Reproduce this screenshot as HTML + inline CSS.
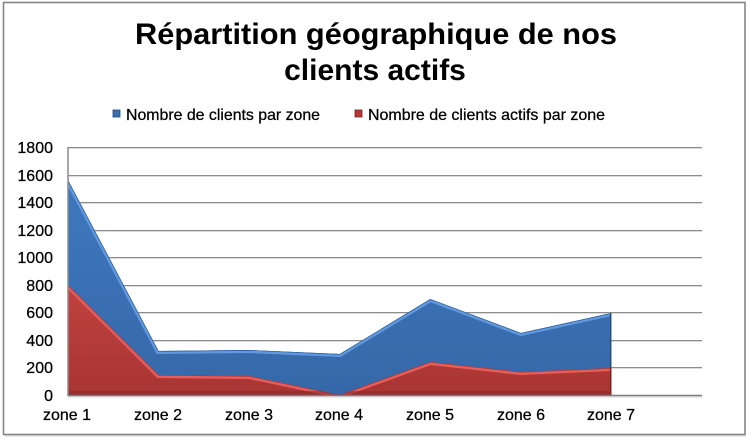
<!DOCTYPE html>
<html>
<head>
<meta charset="utf-8">
<style>
html,body{margin:0;padding:0;background:#fff;}
svg{display:block;}
text{font-family:"Liberation Sans",Arial,sans-serif;fill:#000;}
.lbl{stroke:#000;stroke-width:0.25;}
</style>
</head>
<body>
<svg width="750" height="438" viewBox="0 0 750 438" xmlns="http://www.w3.org/2000/svg">
  <defs>
    <linearGradient id="blueG" x1="0" y1="0" x2="0" y2="1">
      <stop offset="0" stop-color="#3f78bf"/>
      <stop offset="1" stop-color="#3568a8"/>
    </linearGradient>
    <linearGradient id="redG" x1="0" y1="0" x2="0" y2="1">
      <stop offset="0" stop-color="#c04240"/>
      <stop offset="1" stop-color="#a83533"/>
    </linearGradient>
    <clipPath id="clipBlue">
      <polygon points="68,180 158.6,351 249.1,350 339.7,354 430.3,299 520.9,333 611.4,313 611.4,395 68,395"/>
    </clipPath>
    <clipPath id="clipRed">
      <polygon points="68,285 158.6,375 249.1,376 339.7,395 430.3,362 520.9,372 611.4,368 611.4,395 68,395"/>
    </clipPath>
  </defs>

  <rect x="0" y="0" width="750" height="438" fill="#fff"/>
  <rect x="3.5" y="2.5" width="741.5" height="432" fill="#fff" stroke="#858585" stroke-width="1.6"/>
  <line x1="5" y1="436" x2="746" y2="436" stroke="#d8d8d8" stroke-width="1"/>

  <text x="376" y="44" font-size="30" font-weight="bold" text-anchor="middle" textLength="482" lengthAdjust="spacingAndGlyphs">Répartition géographique de nos</text>
  <text x="375" y="80" font-size="30" font-weight="bold" text-anchor="middle">clients actifs</text>

  <rect x="113" y="110" width="7" height="7" fill="#3a6fb0" stroke="#22497a" stroke-width="0.8"/>
  <text class="lbl" x="126" y="120" font-size="16" textLength="194" lengthAdjust="spacingAndGlyphs">Nombre de clients par zone</text>
  <rect x="355" y="110" width="7" height="7" fill="#b83a38" stroke="#7a2020" stroke-width="0.8"/>
  <text class="lbl" x="368" y="120" font-size="16" textLength="237" lengthAdjust="spacingAndGlyphs">Nombre de clients actifs par zone</text>

  <g stroke="#8c8c8c" stroke-width="1">
    <line x1="68" y1="147.5" x2="702" y2="147.5"/>
    <line x1="68" y1="175.5" x2="702" y2="175.5"/>
    <line x1="68" y1="202.5" x2="702" y2="202.5"/>
    <line x1="68" y1="230.5" x2="702" y2="230.5"/>
    <line x1="68" y1="257.5" x2="702" y2="257.5"/>
    <line x1="68" y1="285.5" x2="702" y2="285.5"/>
    <line x1="68" y1="312.5" x2="702" y2="312.5"/>
    <line x1="68" y1="340.5" x2="702" y2="340.5"/>
    <line x1="68" y1="367.5" x2="702" y2="367.5"/>
  </g>
  <g stroke="#dcdcdc" stroke-width="1">
    <line x1="68" y1="148.5" x2="702" y2="148.5"/>
    <line x1="68" y1="176.5" x2="702" y2="176.5"/>
    <line x1="68" y1="203.5" x2="702" y2="203.5"/>
    <line x1="68" y1="231.5" x2="702" y2="231.5"/>
    <line x1="68" y1="258.5" x2="702" y2="258.5"/>
    <line x1="68" y1="286.5" x2="702" y2="286.5"/>
    <line x1="68" y1="313.5" x2="702" y2="313.5"/>
    <line x1="68" y1="341.5" x2="702" y2="341.5"/>
    <line x1="68" y1="368.5" x2="702" y2="368.5"/>
  </g>

  <polygon points="68,180 158.6,351 249.1,350 339.7,354 430.3,299 520.9,333 611.4,313 611.4,395 68,395" fill="url(#blueG)"/>
  <g clip-path="url(#clipBlue)">
    <polyline points="68,180 158.6,351 249.1,350 339.7,354 430.3,299 520.9,333 611.4,313" fill="none" stroke="#6199de" stroke-width="6"/>
    <polyline points="68,180 158.6,351 249.1,350 339.7,354 430.3,299 520.9,333 611.4,313" fill="none" stroke="#2d5e9e" stroke-width="1.4"/>
    <line x1="611.4" y1="300" x2="611.4" y2="395" stroke="#24507f" stroke-width="3"/>
  </g>

  <polygon points="68,285 158.6,375 249.1,376 339.7,395 430.3,362 520.9,372 611.4,368 611.4,395 68,395" fill="url(#redG)"/>
  <g clip-path="url(#clipRed)">
    <polyline points="68,285 158.6,375 249.1,376 339.7,395 430.3,362 520.9,372 611.4,368" fill="none" stroke="#e65e5c" stroke-width="6"/>
    <polyline points="68,285 158.6,375 249.1,376 339.7,395 430.3,362 520.9,372 611.4,368" fill="none" stroke="#a83230" stroke-width="1.2"/>
    <line x1="611.4" y1="360" x2="611.4" y2="395" stroke="#7a2422" stroke-width="3"/>
    <rect x="68" y="391" width="544" height="4" fill="#8e2a28" opacity="0.6"/>
  </g>

  <line x1="68" y1="147" x2="68" y2="396" stroke="#8c8c8c" stroke-width="1.5"/>
  <line x1="68" y1="395.5" x2="702" y2="395.5" stroke="#7c7c7c" stroke-width="1.4"/>
  <line x1="68" y1="397" x2="702" y2="397" stroke="#d6d6d6" stroke-width="1"/>

  <g font-size="16" text-anchor="end" class="lbl">
    <text class="lbl" x="53" y="153">1800</text>
    <text class="lbl" x="53" y="181">1600</text>
    <text class="lbl" x="53" y="208">1400</text>
    <text class="lbl" x="53" y="236">1200</text>
    <text class="lbl" x="53" y="263">1000</text>
    <text class="lbl" x="53" y="291">800</text>
    <text class="lbl" x="53" y="318">600</text>
    <text class="lbl" x="53" y="346">400</text>
    <text class="lbl" x="53" y="373">200</text>
    <text class="lbl" x="53" y="401">0</text>
  </g>

  <g font-size="16" text-anchor="middle">
    <text class="lbl" x="67" y="420">zone 1</text>
    <text class="lbl" x="158" y="420">zone 2</text>
    <text class="lbl" x="249" y="420">zone 3</text>
    <text class="lbl" x="339" y="420">zone 4</text>
    <text class="lbl" x="430" y="420">zone 5</text>
    <text class="lbl" x="521" y="420">zone 6</text>
    <text class="lbl" x="611" y="420">zone 7</text>
  </g>
</svg>
</body>
</html>
